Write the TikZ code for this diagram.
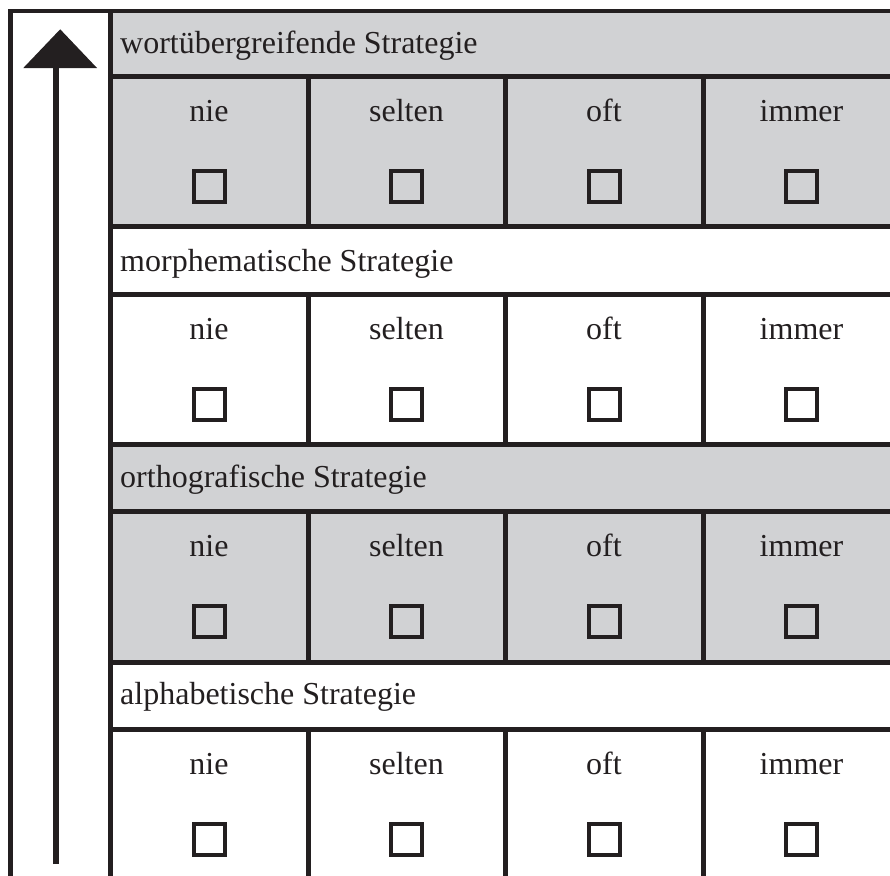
\documentclass[tikz,border=0pt]{standalone}
\usepackage{fontspec}
\setmainfont{Liberation Serif}
\definecolor{ink}{HTML}{231F20}
\definecolor{band}{HTML}{D1D2D4}
\begin{document}
\begin{tikzpicture}[x=1pt,y=-1pt,
  rule/.style={draw=ink,line width=5pt},
  lbl/.style={anchor=base,inner sep=0pt,text=ink,font=\fontsize{32}{38}\selectfont},
  hdr/.style={lbl,anchor=base west},
  cbox/.style={draw=ink,line width=4pt,minimum size=31pt,inner sep=0pt}]
\useasboundingbox (0,0) rectangle (890,875);
\clip (0,0) rectangle (890,875);
% shaded bands
\fill[band] (110,11) rectangle (895,226.5);
\fill[band] (110,444.5) rectangle (895,662);
% headers
\node[hdr] (h1) at (120,53) {wortübergreifende Strategie};
\node[hdr] (h2) at (120,271.5) {morphematische Strategie};
\node[hdr] (h3) at (120,487) {orthografische Strategie};
\node[hdr] (h4) at (120,704) {alphabetische Strategie};
% cells
\foreach \r/\top in {1/76.5,2/294.5,3/511.5,4/729.5}{
  \foreach \c/\x/\w in {1/209/nie,2/406.5/selten,3/604/oft,4/801.5/immer}{
    \node[lbl] (t\r\c) at (\x,\top+44.5) {\w};
    \node[cbox] (b\r\c) at (\x,\top+110) {};
  }
  \foreach \x in {308,505.5,703}{
    \draw[rule] (\x,\top) -- (\x,\top+151);
  }
}
% horizontal rules
\foreach \y in {76.5,226.5,294.5,444.5,511.5,662,729.5}{
  \draw[rule] (110,\y) -- (895,\y);
}
\draw[draw=ink,line width=3.5pt] (8,11) -- (895,11);
% frame verticals
\draw[rule] (10,9.5) -- (10,880);
\draw[rule] (110,9.5) -- (110,880);
% arrow
\coordinate (abot) at (56,864);
\coordinate (abase) at (56,68);
\draw[draw=ink,line width=5.3pt] (abot) -- (abase);
\fill[ink] (23.3,68) -- (60.2,29.3) -- (97,68) -- cycle;
\end{tikzpicture}
\end{document}
